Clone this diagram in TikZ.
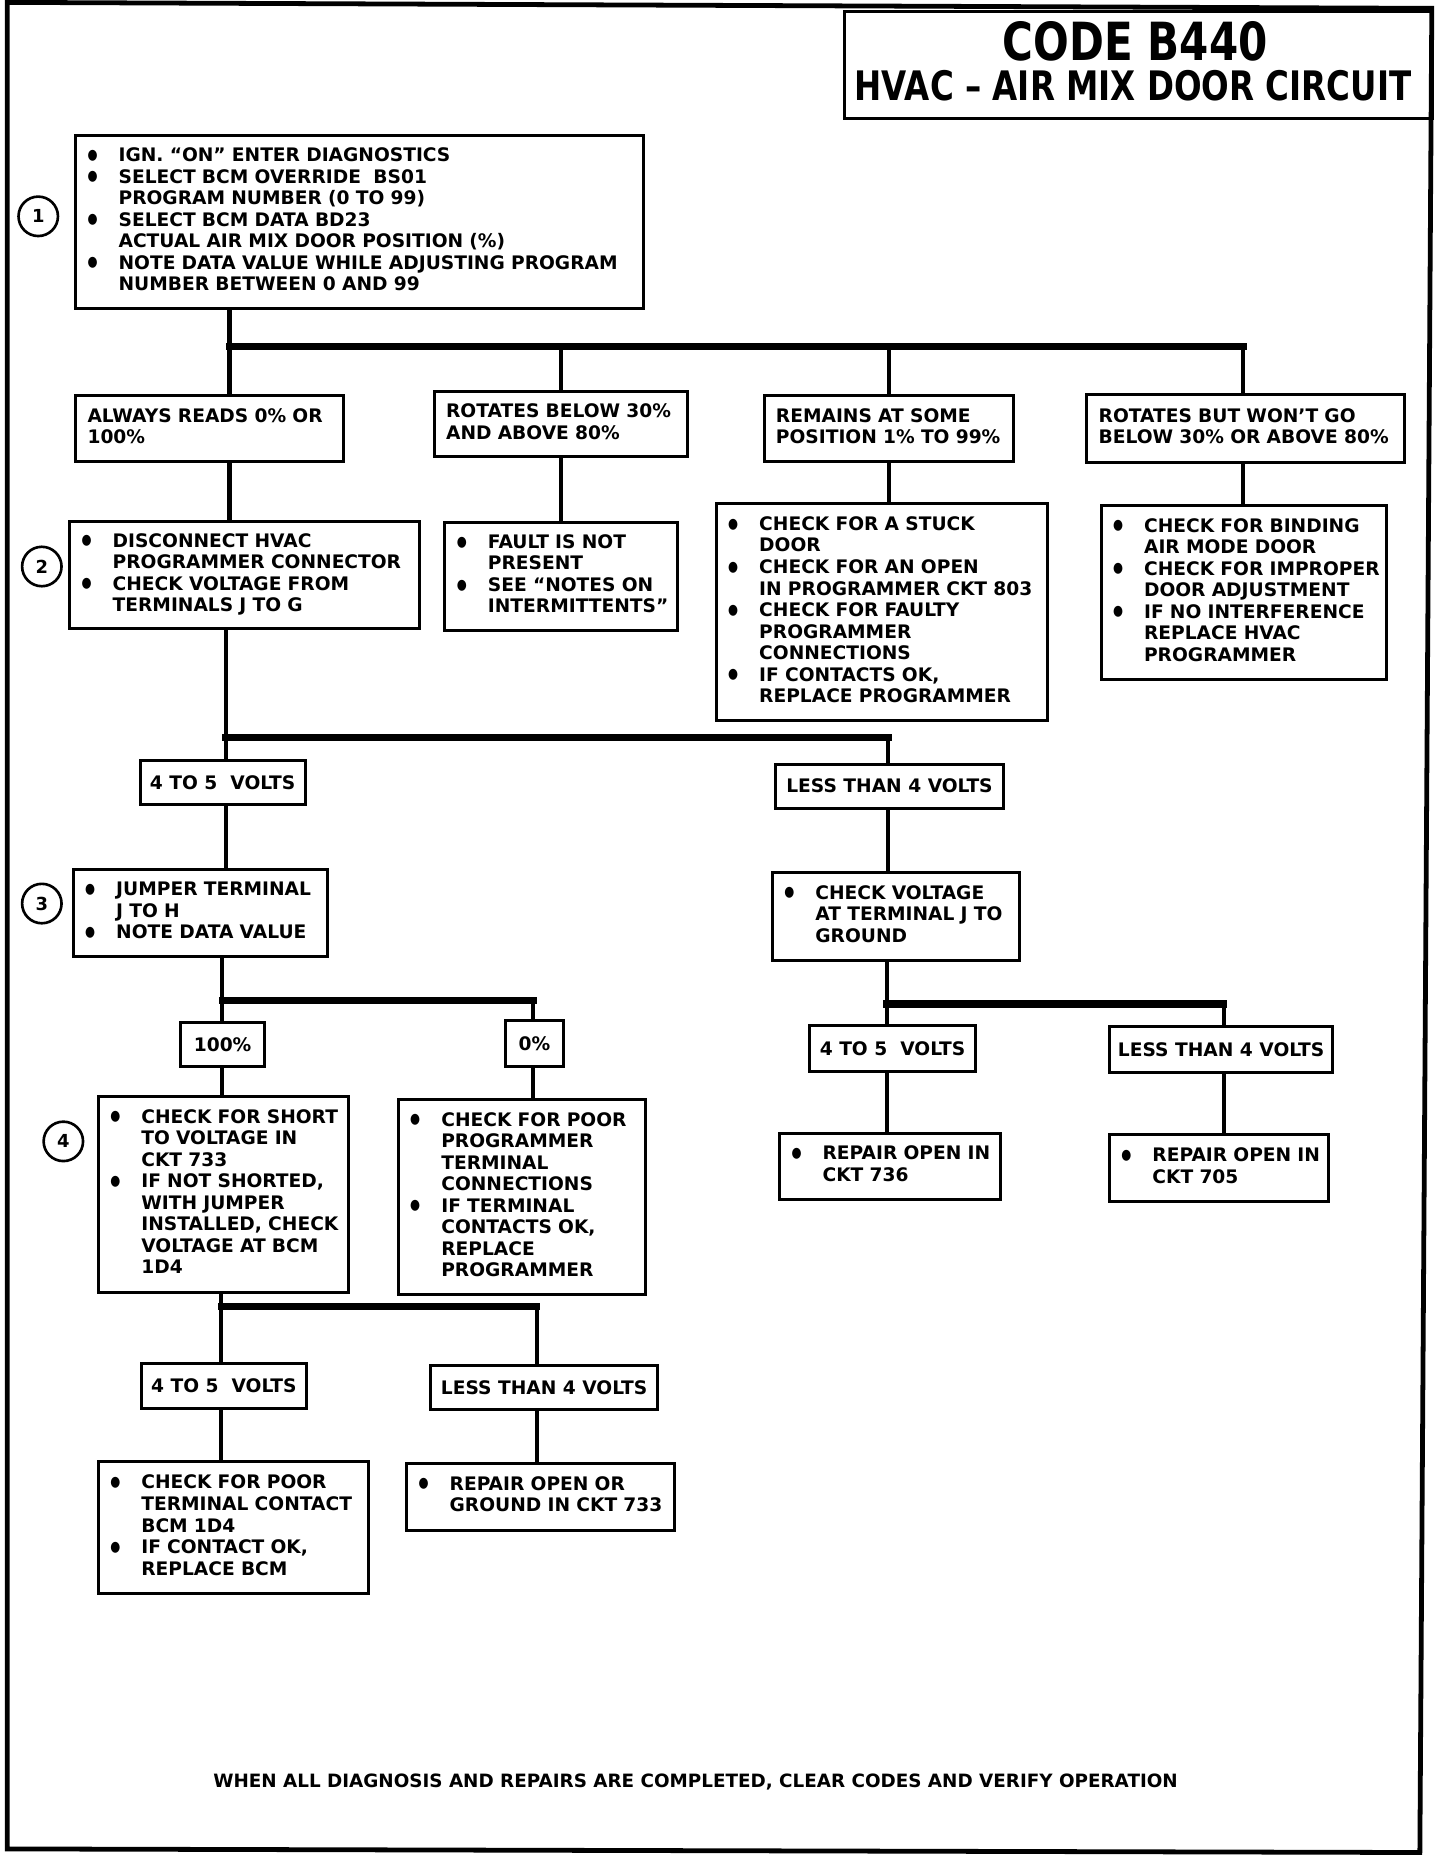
\documentclass[tikz,border=0pt]{standalone}
\usepackage{fontspec}
\usepackage{graphicx}
\setmainfont{DejaVu Sans}
\newfontfamily\ttlfont{DejaVu Sans}[FakeStretch=0.8]
\newcommand{\bodyfont}{\bfseries\fontsize{15.6}{18}\selectfont}
\newcommand{\bul}{\makebox[26pt][l]{\raisebox{2pt}{\scalebox{0.8}[1]{\fontsize{12}{12}\selectfont ●}}}}
\newcommand{\bgap}{\hspace*{26pt}}
\newenvironment{txtrows}{\begin{tabular}{@{}l@{}}}{\end{tabular}}

\tikzset{
  box/.style={draw, line width=2.5pt, anchor=north west, align=left,
    inner xsep=10pt, inner ysep=0pt, font=\bodyfont},
  lbl/.style={draw, line width=2.5pt, anchor=north west, align=center,
    inner sep=0pt, font=\bodyfont},
  numc/.style={draw, circle, line width=2.2pt, minimum size=33pt,
    inner sep=0pt, font=\bfseries\fontsize{15}{15}\selectfont},
  link/.style={line width=3.5pt},
  bus/.style={line width=6pt, line cap=rect},
}

\begin{document}
\begin{tikzpicture}[x=1pt,y=-1pt]
\useasboundingbox (0,0) rectangle (1218,1568);

% frame and title
\draw[line width=4pt] (6,2) -- (1198,7) -- (1188,1550) -- (6,1547) -- cycle;
\node[draw, line width=2.5pt, anchor=north west, minimum width=492pt,
  minimum height=90pt, inner sep=0pt] (ttl) at (705,8) {};
\node[font=\ttlfont\bfseries\fontsize{44}{44}\selectfont, inner sep=0pt]
  (code) at (950,35) {CODE B440};
\node[font=\ttlfont\bfseries\fontsize{34}{34}\selectfont, inner sep=0pt]
  (circ) at (948,72) {HVAC – AIR MIX DOOR CIRCUIT};

% step numbers
\node[numc] (n1) at (32,181) {1};
\node[numc] (n2) at (35,474) {2};
\node[numc] (n3) at (35,756) {3};
\node[numc] (n4) at (53,955) {4};

% step 1
\node[box, minimum width=475pt, minimum height=145pt, text width=455pt] (s1) at (62,112)
  {\begin{txtrows}
   \bul IGN. “ON” ENTER DIAGNOSTICS\\
   \bul SELECT BCM OVERRIDE\ \ BS01\\
   \bgap PROGRAM NUMBER (0 TO 99)\\
   \bul SELECT BCM DATA BD23\\
   \bgap ACTUAL AIR MIX DOOR POSITION (\%)\\
   \bul NOTE DATA VALUE WHILE ADJUSTING PROGRAM\\
   \bgap NUMBER BETWEEN 0 AND 99
   \end{txtrows}};

% readings
\node[box, minimum width=224pt, minimum height=55pt, text width=204pt] (a) at (62,330)
  {\begin{txtrows}ALWAYS READS 0\% OR\\100\%\end{txtrows}};
\node[box, minimum width=212pt, minimum height=55pt, text width=192pt] (b) at (362,326)
  {\begin{txtrows}ROTATES BELOW 30\%\\AND ABOVE 80\%\end{txtrows}};
\node[box, minimum width=209pt, minimum height=55pt, text width=189pt] (c) at (638,330)
  {\begin{txtrows}REMAINS AT SOME\\POSITION 1\% TO 99\%\end{txtrows}};
\node[box, minimum width=266pt, minimum height=57pt, text width=246pt] (d) at (908,329)
  {\begin{txtrows}ROTATES BUT WON’T GO\\BELOW 30\% OR ABOVE 80\%\end{txtrows}};

% actions under readings
\node[box, minimum width=293pt, minimum height=90pt, text width=273pt] (s2) at (57,435)
  {\begin{txtrows}
   \bul DISCONNECT HVAC\\
   \bgap PROGRAMMER CONNECTOR\\
   \bul CHECK VOLTAGE FROM\\
   \bgap TERMINALS J TO G
   \end{txtrows}};
\node[box, minimum width=195pt, minimum height=90pt, text width=175pt] (b2) at (371,436)
  {\begin{txtrows}
   \bul FAULT IS NOT\\
   \bgap PRESENT\\
   \bul SEE “NOTES ON\\
   \bgap INTERMITTENTS”
   \end{txtrows}};
\node[box, minimum width=277pt, minimum height=182pt, text width=257pt] (c2) at (598,420)
  {\begin{txtrows}
   \bul CHECK FOR A STUCK\\
   \bgap DOOR\\
   \bul CHECK FOR AN OPEN\\
   \bgap IN PROGRAMMER CKT 803\\
   \bul CHECK FOR FAULTY\\
   \bgap PROGRAMMER\\
   \bgap CONNECTIONS\\
   \bul IF CONTACTS OK,\\
   \bgap REPLACE PROGRAMMER
   \end{txtrows}};
\node[box, minimum width=239pt, minimum height=145pt, text width=219pt] (d2) at (920,422)
  {\begin{txtrows}
   \bul CHECK FOR BINDING\\
   \bgap AIR MODE DOOR\\
   \bul CHECK FOR IMPROPER\\
   \bgap DOOR ADJUSTMENT\\
   \bul IF NO INTERFERENCE\\
   \bgap REPLACE HVAC\\
   \bgap PROGRAMMER
   \end{txtrows}};

% voltage J to G
\node[lbl, minimum width=138pt, minimum height=37pt] (v45) at (116,635) {4 TO 5\ \ VOLTS};
\node[lbl, minimum width=190pt, minimum height=37pt] (vlt) at (648,638) {LESS THAN 4 VOLTS};

% step 3 and ground check
\node[box, minimum width=213pt, minimum height=73pt, text width=193pt] (s3) at (60,726)
  {\begin{txtrows}
   \bul JUMPER TERMINAL\\
   \bgap J TO H\\
   \bul NOTE DATA VALUE
   \end{txtrows}};
\node[box, minimum width=207pt, minimum height=73pt, text width=187pt] (g) at (645,729)
  {\begin{txtrows}
   \bul CHECK VOLTAGE\\
   \bgap AT TERMINAL J TO\\
   \bgap GROUND
   \end{txtrows}};

% data value / voltage to ground
\node[lbl, minimum width=70pt, minimum height=37pt] (p100) at (150,854) {100\%};
\node[lbl, minimum width=48pt, minimum height=38pt] (p0) at (422,853) {0\%};
\node[lbl, minimum width=139pt, minimum height=38pt] (g45) at (676,857) {4 TO 5\ \ VOLTS};
\node[lbl, minimum width=187pt, minimum height=38pt] (glt) at (927,858) {LESS THAN 4 VOLTS};

% step 4 and repairs
\node[box, minimum width=209pt, minimum height=164pt, text width=189pt] (s4) at (81,916)
  {\begin{txtrows}
   \bul CHECK FOR SHORT\\
   \bgap TO VOLTAGE IN\\
   \bgap CKT 733\\
   \bul IF NOT SHORTED,\\
   \bgap WITH JUMPER\\
   \bgap INSTALLED, CHECK\\
   \bgap VOLTAGE AT BCM\\
   \bgap 1D4
   \end{txtrows}};
\node[box, minimum width=207pt, minimum height=163pt, text width=187pt] (q) at (332,919)
  {\begin{txtrows}
   \bul CHECK FOR POOR\\
   \bgap PROGRAMMER\\
   \bgap TERMINAL\\
   \bgap CONNECTIONS\\
   \bul IF TERMINAL\\
   \bgap CONTACTS OK,\\
   \bgap REPLACE\\
   \bgap PROGRAMMER
   \end{txtrows}};
\node[box, minimum width=185pt, minimum height=55pt, text width=165pt] (r736) at (651,947)
  {\begin{txtrows}\bul REPAIR OPEN IN\\\bgap CKT 736\end{txtrows}};
\node[box, minimum width=183pt, minimum height=56pt, text width=163pt] (r705) at (927,948)
  {\begin{txtrows}\bul REPAIR OPEN IN\\\bgap CKT 705\end{txtrows}};

% voltage at BCM
\node[lbl, minimum width=138pt, minimum height=37pt] (w45) at (117,1140) {4 TO 5\ \ VOLTS};
\node[lbl, minimum width=190pt, minimum height=37pt] (wlt) at (359,1141) {LESS THAN 4 VOLTS};
\node[box, minimum width=226pt, minimum height=110pt, text width=206pt] (t1) at (81,1222)
  {\begin{txtrows}
   \bul CHECK FOR POOR\\
   \bgap TERMINAL CONTACT\\
   \bgap BCM 1D4\\
   \bul IF CONTACT OK,\\
   \bgap REPLACE BCM
   \end{txtrows}};
\node[box, minimum width=224pt, minimum height=56pt, text width=204pt] (t2) at (339,1223)
  {\begin{txtrows}\bul REPAIR OPEN OR\\\bgap GROUND IN CKT 733\end{txtrows}};

\node[font=\bfseries\fontsize{15.35}{18}\selectfont] (foot) at (582,1491)
  {WHEN ALL DIAGNOSIS AND REPAIRS ARE COMPLETED, CLEAR CODES AND VERIFY OPERATION};

% connectors
\coordinate (j1) at (192,290);
\coordinate (j1e) at (1040,290);
\draw[link] (s1.south -| j1) -- (j1);
\draw[bus] (j1) -- (j1e);
\draw[link] (j1) -- (a.north -| j1);
\draw[link] (j1 -| b.north) -- (b.north);
\draw[link] (j1 -| c.north) -- (c.north);
\draw[link] (j1e) -- (d.north -| j1e);
\draw[link] (a.south -| j1) -- (s2.north -| j1);
\draw[link] (b.south) -- (b.south |- b2.north);
\draw[link] (c.south) -- (c.south |- c2.north);
\draw[link] (d.south -| j1e) -- (d2.north -| j1e);

\coordinate (j2) at (189,617);
\coordinate (j2e) at (743,617);
\draw[link] (s2.south -| j2) -- (j2);
\draw[bus] (j2) -- (j2e);
\draw[link] (j2) -- (v45.north -| j2);
\draw[link] (j2e) -- (vlt.north -| j2e);
\draw[link] (v45.south -| j2) -- (s3.north -| j2);
\draw[link] (vlt.south -| j2e) -- (g.north -| j2e);

\coordinate (j3) at (186,837);
\coordinate (j3e) at (446,837);
\draw[link] (s3.south -| j3) -- (j3);
\draw[bus] (j3) -- (j3e);
\draw[link] (j3) -- (p100.north -| j3);
\draw[link] (j3e) -- (p0.north -| j3e);
\draw[link] (p100.south -| j3) -- (s4.north -| j3);
\draw[link] (p0.south -| j3e) -- (q.north -| j3e);

\coordinate (j4) at (742,840);
\coordinate (j4e) at (1024,840);
\draw[link] (g.south -| j4) -- (j4);
\draw[bus] (j4) -- (j4e);
\draw[link] (j4) -- (g45.north -| j4);
\draw[link] (j4e) -- (glt.north -| j4e);
\draw[link] (g45.south -| j4) -- (r736.north -| j4);
\draw[link] (glt.south -| j4e) -- (r705.north -| j4e);

\coordinate (j5) at (185,1093);
\coordinate (j5e) at (449,1093);
\draw[link] (s4.south -| j5) -- (j5);
\draw[bus] (j5) -- (j5e);
\draw[link] (j5) -- (w45.north -| j5);
\draw[link] (j5e) -- (wlt.north -| j5e);
\draw[link] (w45.south -| j5) -- (t1.north -| j5);
\draw[link] (wlt.south -| j5e) -- (t2.north -| j5e);
\end{tikzpicture}
\end{document}
